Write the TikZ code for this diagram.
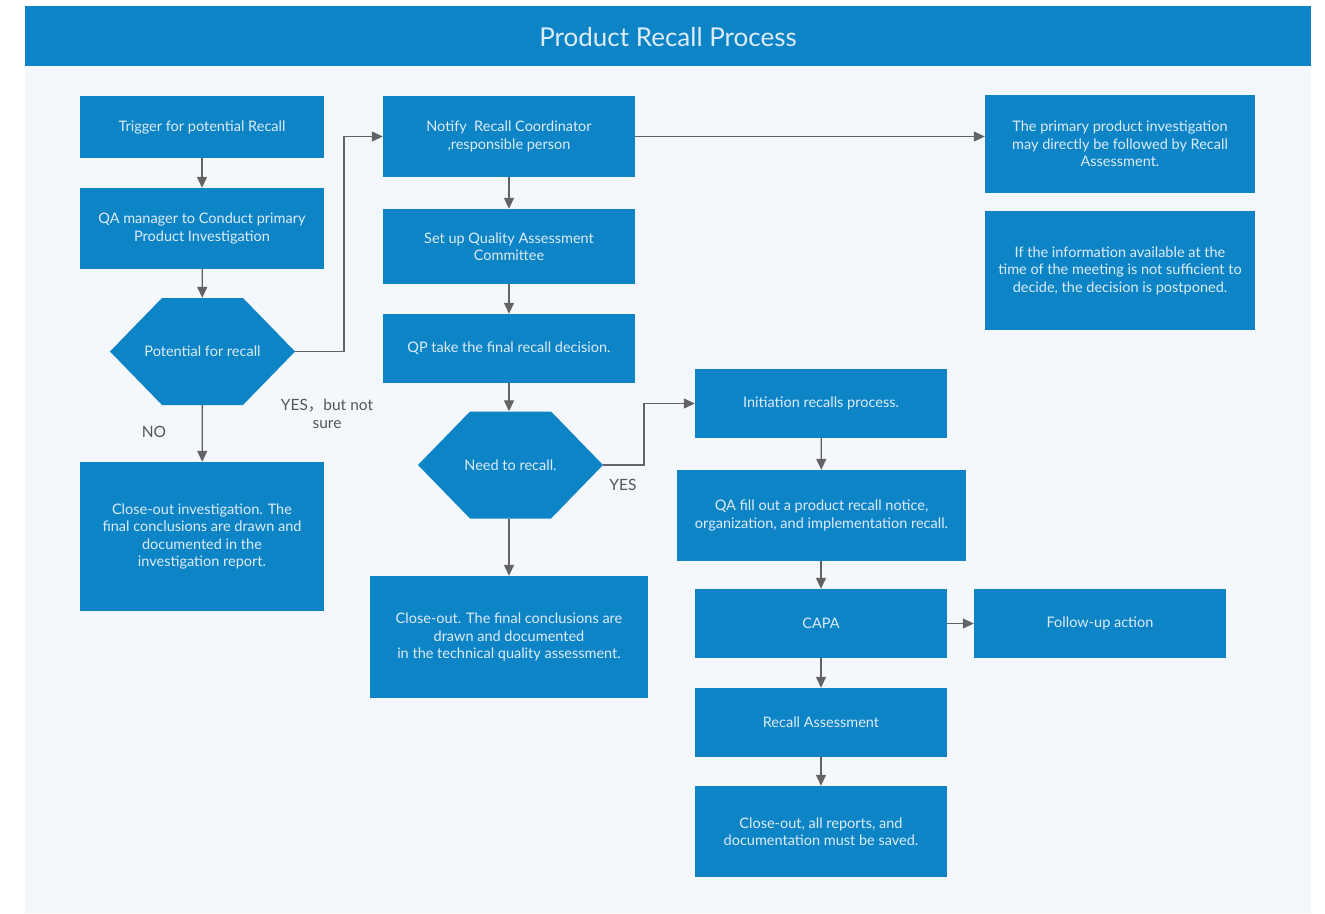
\documentclass[tikz,border=0pt]{standalone}
\usepackage{fontspec}
\setmainfont{Lato}
\newfontfamily\cjk{Noto Sans CJK SC}
\usetikzlibrary{arrows.meta}
\definecolor{boxblue}{HTML}{0D84C6}
\definecolor{panel}{HTML}{F4F8FC}
\definecolor{txt}{HTML}{DDECF7}
\definecolor{wire}{HTML}{636363}
\definecolor{lbl}{HTML}{555555}
\tikzset{
  box/.style={fill=boxblue, text=txt, align=center, inner sep=0pt,
    font=\fontsize{14.5}{17.5}\selectfont},
  hexbox/.style={text=txt, align=center, inner sep=0pt,
    font=\fontsize{14.5}{17.5}\selectfont,
    minimum width=185, minimum height=107,
    path picture={\fill[boxblue]
      ([xshift=52pt]path picture bounding box.north west) --
      ([xshift=-52pt]path picture bounding box.north east) --
      (path picture bounding box.east) --
      ([xshift=-52pt]path picture bounding box.south east) --
      ([xshift=52pt]path picture bounding box.south west) --
      (path picture bounding box.west) -- cycle;}},
  flow/.style={draw=wire, line width=1.3pt, -{Triangle[length=11pt,width=10pt]}},
  note/.style={text=lbl, align=center, font=\fontsize{15.5}{18}\selectfont}
}
\begin{document}
\begin{tikzpicture}[x=1pt,y=-1pt]
\useasboundingbox (0,0) rectangle (1325,913);
\fill[white] (0,0) rectangle (1325,913);
% panel and header
\fill[panel] (25,6) rectangle (1311,913);
\fill[boxblue] (25,6) rectangle (1311,66);
\node[text=txt, font=\fontsize{26}{30}\selectfont] (title) at (668,37.5) {Product Recall Process};

% left column
\node[box, minimum width=244, minimum height=62] (trig) at (202,127) {Trigger for potential Recall};
\node[box, minimum width=244, minimum height=81] (qam) at (202,228.5) {QA manager to Conduct primary\\Product Investigation};
\node[hexbox] (pot) at (202.5,351.5) {Potential for recall};
\node[box, minimum width=244, minimum height=149] (close1) at (202,536.5) {Close-out investigation. The\\final conclusions are drawn and\\documented in the\\investigation report.};

% middle column
\node[box, minimum width=252, minimum height=81] (notify) at (509,136.5) {Notify\ \ Recall Coordinator\\,responsible person};
\node[box, minimum width=252, minimum height=75] (setup) at (509,246.5) {Set up Quality Assessment\\Committee};
\node[box, minimum width=252, minimum height=69] (qp) at (509,348.5) {QP take the final recall decision.};
\node[hexbox] (need) at (510.5,465) {Need to recall.};
\node[box, minimum width=278, minimum height=122] (close2) at (509,637) {Close-out. The final conclusions are\\drawn and documented\\in the technical quality assessment.};

% right column
\node[box, minimum width=252, minimum height=69] (init) at (821,403.5) {Initiation recalls process.};
\node[box, minimum width=289, minimum height=91] (qafill) at (821.5,515.5) {QA fill out a product recall notice,\\organization, and implementation recall.};
\node[box, minimum width=252, minimum height=69] (capa) at (821,623.5) {CAPA};
\node[box, minimum width=252, minimum height=69] (follow) at (1100,623.5) {Follow-up action};
\node[box, minimum width=252, minimum height=69] (rass) at (821,722.5) {Recall Assessment};
\node[box, minimum width=252, minimum height=91] (close3) at (821,831.5) {Close-out, all reports, and\\documentation must be saved.};

% notes
\node[box, minimum width=270, minimum height=98] (primary) at (1120,144) {The primary product investigation\\may directly be followed by Recall\\Assessment.};
\node[box, minimum width=270, minimum height=119] (info) at (1120,270.5) {If the information available at the\\time of the meeting is not sufficient to\\decide, the decision is postponed.};

% connectors
\draw[flow] (trig) -- (qam);
\draw[flow] (qam) -- (pot);
\draw[flow] (pot.east) -- (344,351.5) |- (notify.west);
\draw[flow] (pot) -- (close1);
\draw[flow] (notify) -- (setup);
\draw[flow] (setup) -- (qp);
\draw[flow] (qp.south) -- (need.north -| qp.south);
\draw[flow] (need.east) -- (644,465) |- (init.west);
\draw[flow] (need.south -| close2.north) -- (close2.north);
\draw[flow] (notify.east) -- (primary.west |- notify.east);
\draw[flow] (init) -- (qafill);
\draw[flow] (qafill.south -| capa.north) -- (capa);
\draw[flow] (capa) -- (follow);
\draw[flow] (capa) -- (rass);
\draw[flow] (rass) -- (close3);

% branch labels
\node[note] (lno) at (154,431.5) {NO};
\node[note] (lyesns) at (327,413.5) {YES{\cjk ，}but not\\sure};
\node[note] (lyes) at (623,484.5) {YES};
\end{tikzpicture}
\end{document}
